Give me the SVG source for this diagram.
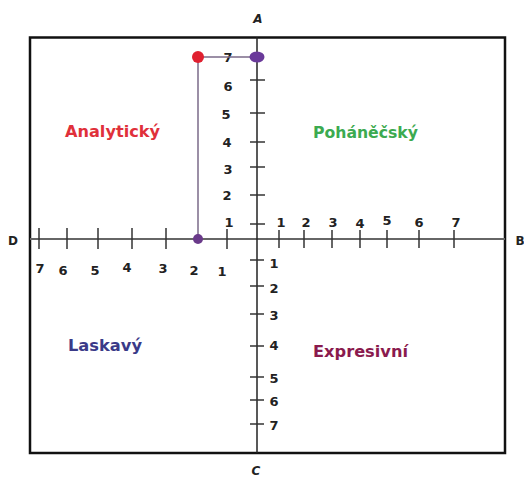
<svg xmlns="http://www.w3.org/2000/svg" width="524" height="477" viewBox="0 0 524 477">
<style>
.num{font-family:"DejaVu Sans",sans-serif;font-weight:bold;font-size:13px;fill:#222;text-anchor:middle}
.ax{font-family:"DejaVu Sans",sans-serif;font-weight:bold;font-size:12px;fill:#222;text-anchor:middle}
.q{font-family:"DejaVu Sans",sans-serif;font-weight:bold;font-size:15px}
.tick{stroke:#333;stroke-width:1.5}
</style>
<rect width="524" height="477" fill="#fff"/>
<g id="frame">
<rect x="30" y="37.5" width="475" height="415.5" fill="none" stroke="#111" stroke-width="2.5"/>
</g>
<g id="axes">
<line x1="30" y1="239" x2="505" y2="239" stroke="#666" stroke-width="2"/>
<line x1="257" y1="37" x2="257" y2="453" stroke="#222" stroke-width="1.5"/>
</g>
<g id="ticks" class="tick">
<line x1="39" y1="228" x2="39" y2="249"/>
<line x1="67" y1="228" x2="67" y2="249"/>
<line x1="98" y1="228" x2="98" y2="249"/>
<line x1="132" y1="228" x2="132" y2="249"/>
<line x1="166" y1="228" x2="166" y2="249"/>
<line x1="227" y1="229" x2="227" y2="249"/>
<line x1="279" y1="230" x2="279" y2="248"/>
<line x1="304" y1="230" x2="304" y2="248"/>
<line x1="332" y1="230" x2="332" y2="248"/>
<line x1="360" y1="230" x2="360" y2="248"/>
<line x1="387" y1="230" x2="387" y2="248"/>
<line x1="419" y1="230" x2="419" y2="248"/>
<line x1="454" y1="230" x2="454" y2="248"/>
<line x1="250" y1="80" x2="265" y2="80"/>
<line x1="250" y1="113" x2="265" y2="113"/>
<line x1="250" y1="142" x2="265" y2="142"/>
<line x1="250" y1="167" x2="265" y2="167"/>
<line x1="250" y1="195" x2="265" y2="195"/>
<line x1="250" y1="224" x2="265" y2="224"/>
<line x1="250" y1="260" x2="264" y2="260"/>
<line x1="250" y1="286" x2="264" y2="286"/>
<line x1="250" y1="314" x2="264" y2="314"/>
<line x1="250" y1="346" x2="264" y2="346"/>
<line x1="250" y1="377" x2="264" y2="377"/>
<line x1="250" y1="400" x2="264" y2="400"/>
<line x1="250" y1="424" x2="264" y2="424"/>
</g>
<g id="numbers" class="num">
<text x="40" y="273">7</text>
<text x="63" y="275">6</text>
<text x="95" y="275">5</text>
<text x="127" y="272">4</text>
<text x="163" y="273">3</text>
<text x="194" y="275">2</text>
<text x="222" y="276">1</text>
<text x="281" y="227">1</text>
<text x="306" y="227">2</text>
<text x="333" y="227">3</text>
<text x="360" y="228">4</text>
<text x="387" y="225">5</text>
<text x="419" y="227">6</text>
<text x="456" y="227">7</text>
<text x="228" y="62">7</text>
<text x="228" y="91">6</text>
<text x="226" y="119">5</text>
<text x="227" y="147">4</text>
<text x="228" y="174">3</text>
<text x="227" y="200">2</text>
<text x="229" y="227">1</text>
<text x="274" y="268">1</text>
<text x="274" y="293">2</text>
<text x="274" y="320">3</text>
<text x="274" y="350">4</text>
<text x="274" y="383">5</text>
<text x="274" y="406">6</text>
<text x="274" y="430">7</text>
</g>
<g id="axis-labels" class="ax">
<text x="258" y="23" font-style="italic">A</text>
<text x="256" y="475" font-style="italic">C</text>
<text x="13" y="245">D</text>
<text x="520" y="245">B</text>
</g>
<g id="connectors" fill="none" stroke="#7a6a88" stroke-width="1.5">
<line x1="198" y1="57" x2="257" y2="57"/>
<line x1="198" y1="57" x2="198" y2="239"/>
</g>
<g id="point-red"><circle cx="198" cy="57" r="6" fill="#e02030"/></g>
<g id="point-top"><ellipse cx="257" cy="57" rx="7.5" ry="5.5" fill="#6a3a9a"/></g>
<g id="point-axis"><circle cx="198" cy="239" r="5" fill="#6a3a8a"/></g>
<g id="q-analyticky"><text class="q" x="65" y="137" fill="#e0303a" textLength="95" lengthAdjust="spacingAndGlyphs">Analytický</text></g>
<g id="q-pohanecsky"><text class="q" x="313" y="138" fill="#3caa50" textLength="105" lengthAdjust="spacingAndGlyphs">Poháněčský</text></g>
<g id="q-laskavy"><text class="q" x="68" y="351" fill="#3a3a88" textLength="74" lengthAdjust="spacingAndGlyphs">Laskavý</text></g>
<g id="q-expresivni"><text class="q" x="313" y="357" fill="#8a1a4e" textLength="95" lengthAdjust="spacingAndGlyphs">Expresivní</text></g>
</svg>
